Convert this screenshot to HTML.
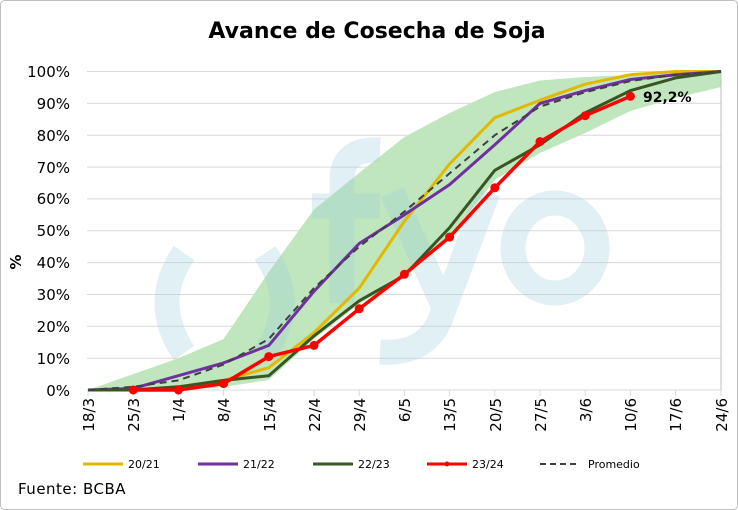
<!DOCTYPE html>
<html><head><meta charset="utf-8"><style>
html,body{margin:0;padding:0;background:#fff;}
svg{display:block;font-family:"DejaVu Sans","Liberation Sans",sans-serif;}
</style></head><body>
<svg width="738" height="510" viewBox="0 0 738 510" xmlns="http://www.w3.org/2000/svg">
<rect x="0.5" y="0.5" width="737" height="509" rx="4" fill="#fff" stroke="#bfbfbf"/>
<text x="377" y="38" text-anchor="middle" font-size="22" font-weight="bold" fill="#000">Avance de Cosecha de Soja</text>
<g stroke="#d9d9d9" stroke-width="1">
<line x1="87" y1="71.5" x2="721" y2="71.5"/><line x1="87" y1="103.4" x2="721" y2="103.4"/><line x1="87" y1="135.2" x2="721" y2="135.2"/><line x1="87" y1="167.1" x2="721" y2="167.1"/><line x1="87" y1="198.9" x2="721" y2="198.9"/><line x1="87" y1="230.8" x2="721" y2="230.8"/><line x1="87" y1="262.6" x2="721" y2="262.6"/><line x1="87" y1="294.5" x2="721" y2="294.5"/><line x1="87" y1="326.3" x2="721" y2="326.3"/><line x1="87" y1="358.2" x2="721" y2="358.2"/>
</g>
<g font-size="15" fill="#000" text-anchor="end">
<text x="70" y="77">100%</text><text x="70" y="109">90%</text><text x="70" y="141">80%</text><text x="70" y="173">70%</text><text x="70" y="204">60%</text><text x="70" y="236">50%</text><text x="70" y="268">40%</text><text x="70" y="300">30%</text><text x="70" y="332">20%</text><text x="70" y="364">10%</text><text x="70" y="396">0%</text>
</g>
<text transform="translate(21,262) rotate(-90)" font-size="15" font-weight="bold" text-anchor="middle">%</text>
<polygon fill="#c0e6bd" points="88,390 133.2,374.1 178.4,358.2 223.6,339 268.8,272 314,209.5 359.2,173 404.4,137 449.6,113 494.8,92 540,80.5 585.2,77 630.4,75 675.6,73 721,71.5 721,87 675.6,98 630.4,111 585.2,133 540,153 494.8,180 449.6,237 404.4,278 359.2,304 314,339 268.8,380 223.6,387 178.4,390 133.2,390"/>
<g fill="none" stroke="#9fcfe0" opacity="0.3" stroke-width="25">
<path d="M184,253 Q150,303 184,353"/>
<path d="M265,253 Q299,303 265,353"/>
<path d="M342,303 L342,180 Q342,148 380,150"/>
<line x1="312" y1="206" x2="380" y2="206"/>
<path d="M392,192 L443,305"/>
<path d="M488,192 L440,320 Q425,355 380,352"/>
<ellipse cx="555" cy="248" rx="42" ry="45"/>
</g>
<line x1="87" y1="390" x2="721" y2="390" stroke="#d9d9d9"/>
<line x1="721" y1="71" x2="721" y2="390" stroke="#bfbfbf"/>
<g stroke="#d9d9d9"><line x1="88" y1="390" x2="88" y2="396"/><line x1="133.2" y1="390" x2="133.2" y2="396"/><line x1="178.4" y1="390" x2="178.4" y2="396"/><line x1="223.6" y1="390" x2="223.6" y2="396"/><line x1="268.8" y1="390" x2="268.8" y2="396"/><line x1="314" y1="390" x2="314" y2="396"/><line x1="359.2" y1="390" x2="359.2" y2="396"/><line x1="404.4" y1="390" x2="404.4" y2="396"/><line x1="449.6" y1="390" x2="449.6" y2="396"/><line x1="494.8" y1="390" x2="494.8" y2="396"/><line x1="540" y1="390" x2="540" y2="396"/><line x1="585.2" y1="390" x2="585.2" y2="396"/><line x1="630.4" y1="390" x2="630.4" y2="396"/><line x1="675.6" y1="390" x2="675.6" y2="396"/><line x1="721" y1="390" x2="721" y2="396"/></g>
<g font-size="15" text-anchor="end">
<text transform="translate(94,398) rotate(-90)">18/3</text><text transform="translate(139,398) rotate(-90)">25/3</text><text transform="translate(184,398) rotate(-90)">1/4</text><text transform="translate(229,398) rotate(-90)">8/4</text><text transform="translate(275,398) rotate(-90)">15/4</text><text transform="translate(320,398) rotate(-90)">22/4</text><text transform="translate(365,398) rotate(-90)">29/4</text><text transform="translate(410,398) rotate(-90)">6/5</text><text transform="translate(455,398) rotate(-90)">13/5</text><text transform="translate(501,398) rotate(-90)">20/5</text><text transform="translate(546,398) rotate(-90)">27/5</text><text transform="translate(591,398) rotate(-90)">3/6</text><text transform="translate(636,398) rotate(-90)">10/6</text><text transform="translate(681,398) rotate(-90)">17/6</text><text transform="translate(727,398) rotate(-90)">24/6</text>
</g>
<g fill="none" stroke-width="3" stroke-linejoin="round">
<polyline stroke="#e2b900" points="88,390 133.2,390 178.4,386.8 223.6,380.4 268.8,367.7 314,332.7 359.2,288.1 404.4,221.2 449.6,163.9 494.8,117.7 540,100.2 585.2,84.2 630.4,74.7 675.6,71.5 721,71.5"/>
<polyline stroke="#7030a0" points="88,390 133.2,388.4 178.4,375.7 223.6,362.9 268.8,345.4 314,291.3 359.2,243.5 404.4,214.8 449.6,184.6 494.8,144.8 540,103.4 585.2,90.6 630.4,79.5 675.6,74.7 721,71.5"/>
<polyline stroke="#375623" points="88,390 133.2,390 178.4,386.8 223.6,380.4 268.8,375.7 314,335.9 359.2,300.8 404.4,275.4 449.6,227.6 494.8,170.3 540,144.8 585.2,112.9 630.4,90.6 675.6,77.9 721,71.5"/>
<polyline stroke="#404040" stroke-width="2" stroke-dasharray="7,5" points="88,390 133.2,386.8 178.4,380.4 223.6,364.5 268.8,339 314,288.1 359.2,246.7 404.4,211.6 449.6,173.4 494.8,135.2 540,106.6 585.2,92.2 630.4,81.1 675.6,74.7 721,71.5"/>
<polyline stroke="#ff0000" stroke-width="3.5" points="133.2,390 178.4,390 223.6,383.6 268.8,356.6 314,345.4 359.2,308.8 404.4,274.3 449.6,237.1 494.8,187.8 540,141.6 585.2,115.7 630.4,96.3"/>
</g>
<g fill="#ff0000">
<circle cx="133.2" cy="390" r="4.5"/><circle cx="178.4" cy="390" r="4.5"/><circle cx="223.6" cy="383.6" r="4.5"/><circle cx="268.8" cy="356.6" r="4.5"/><circle cx="314" cy="345.4" r="4.5"/><circle cx="359.2" cy="308.8" r="4.5"/><circle cx="404.4" cy="274.3" r="4.5"/><circle cx="449.6" cy="237.1" r="4.5"/><circle cx="494.8" cy="187.8" r="4.5"/><circle cx="540" cy="141.6" r="4.5"/><circle cx="585.2" cy="115.7" r="4.5"/><circle cx="630.4" cy="96.3" r="4.5"/>
</g>
<text x="643" y="102" font-size="14" font-weight="bold">92,2%</text>
<g font-size="11" fill="#000">
<line x1="83" y1="464" x2="123" y2="464" stroke="#e2b900" stroke-width="3"/><text x="128" y="468">20/21</text>
<line x1="198" y1="464" x2="238" y2="464" stroke="#7030a0" stroke-width="3"/><text x="243" y="468">21/22</text>
<line x1="313" y1="464" x2="353" y2="464" stroke="#375623" stroke-width="3"/><text x="358" y="468">22/23</text>
<line x1="427" y1="464" x2="467" y2="464" stroke="#ff0000" stroke-width="3"/><circle cx="447" cy="464" r="2.5" fill="#ff0000"/><text x="472" y="468">23/24</text>
<line x1="540" y1="464" x2="580" y2="464" stroke="#404040" stroke-width="2" stroke-dasharray="6,4"/><text x="588" y="468">Promedio</text>
</g>
<text x="18" y="494" font-size="15" letter-spacing="0.5">Fuente: BCBA</text>
</svg>
</body></html>
